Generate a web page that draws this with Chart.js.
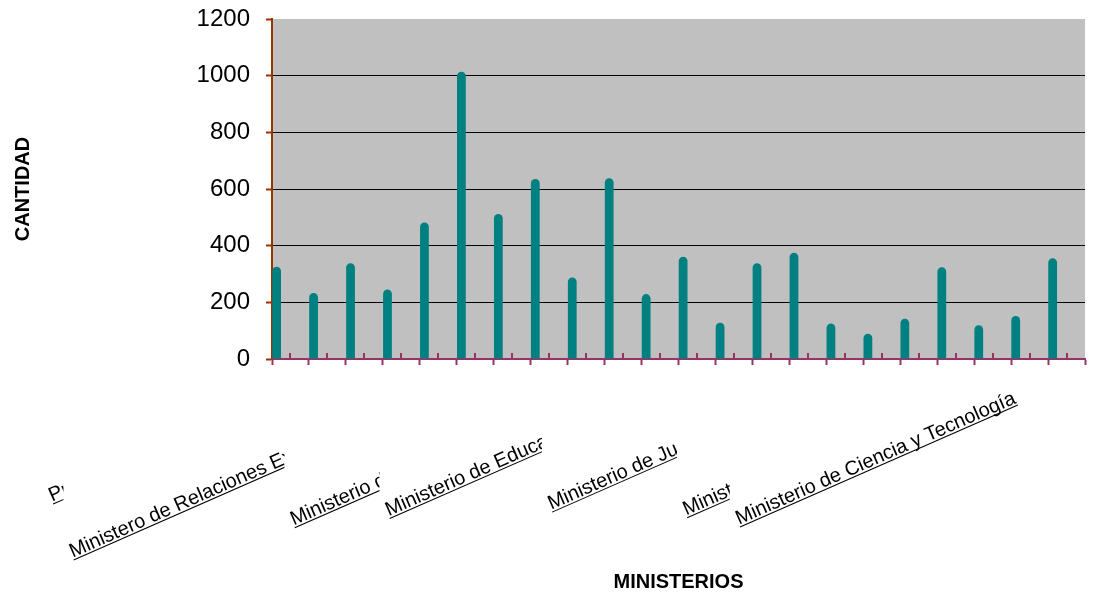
<!DOCTYPE html>
<html>
<head>
<meta charset="utf-8">
<script src="https://cdn.jsdelivr.net/npm/chart.js@4.4.1/dist/chart.umd.min.js"></script>
<style>
  html, body { margin: 0; padding: 0; background: #fff; }
</style>
</head>
<body>
<canvas id="ministerios" width="1095" height="601"></canvas>
<script>
// ---- data ----
const categories = [
  '', 'Pr', '', '', '', 'Ministero de Relaciones Ex', '', '', '',
  'Ministerio de', '', 'Ministerio de Educa', '', '', '', 'Ministerio de Jus',
  '', '', '', 'Minist', '', 'Ministerio de Ciencia y Tecnología'
];
const cantidad = [326, 233, 338, 245, 482, 1014, 512, 635, 288, 638, 229,
                  361, 128, 338, 375, 125, 89, 142, 324, 119, 152, 356];
const yTicks = [0, 200, 400, 600, 800, 1000, 1200];

// distance along the slanted baseline from a category's right edge back to
// where its label text starts (long names run out past the neighbours)
const labelLead = [0, 320, 0, 0, 0, 459, 0, 0, 0, 379, 0, 356, 0, 0, 0, 340,
                   0, 0, 0, 354, 0, 377];

Chart.defaults.font.family = '"Liberation Sans", Arial, sans-serif';

const LABEL_ANGLE = 23.7 * Math.PI / 180;

// grey plot area on a white page
const plotBg = {
  id: 'plotBg',
  beforeDraw(chart) {
    const { ctx, chartArea: a } = chart;
    ctx.save();
    ctx.fillStyle = '#ffffff';
    ctx.fillRect(0, 0, chart.width, chart.height);
    ctx.fillStyle = '#c0c0c0';
    ctx.fillRect(a.left, a.top, a.right - a.left, a.bottom - a.top);
    ctx.restore();
  }
};

// inner tick marks + slanted, underlined category labels
const axisDecor = {
  id: 'axisDecor',
  afterDraw(chart) {
    const { ctx, chartArea: a, scales: { x } } = chart;
    const slot = x.getPixelForValue(1) - x.getPixelForValue(0);
    ctx.save();

    ctx.strokeStyle = '#993366';
    ctx.lineWidth = 2;
    categories.forEach((_, i) => {
      const px = Math.round(x.getPixelForValue(i));
      ctx.beginPath();
      ctx.moveTo(px, a.bottom);
      ctx.lineTo(px, a.bottom - 6);
      ctx.stroke();
    });

    const ux = Math.cos(LABEL_ANGLE), uy = -Math.sin(LABEL_ANGLE);
    const shown = [];
    categories.forEach((txt, i) => {
      if (!txt) return;
      const ax = x.getPixelForValue(i) + slot / 2;
      const ay = a.bottom + 16;
      shown.push({ txt, sx: ax - labelLead[i] * ux, sy: ay - labelLead[i] * uy });
    });

    ctx.font = '20px "Liberation Sans", Arial, sans-serif';
    ctx.fillStyle = '#000';
    ctx.strokeStyle = '#000';
    ctx.lineWidth = 1;
    ctx.textAlign = 'left';
    ctx.textBaseline = 'alphabetic';
    shown.forEach((l, j) => {
      ctx.save();
      const next = shown[j + 1];
      if (next) {
        ctx.beginPath();
        ctx.rect(0, 0, next.sx - 10, chart.height);
        ctx.clip();
      }
      ctx.translate(l.sx, l.sy);
      ctx.rotate(-LABEL_ANGLE);
      const w = ctx.measureText(l.txt).width;
      ctx.fillText(l.txt, 0, -2);
      ctx.beginPath();
      ctx.moveTo(0, 0.5);
      ctx.lineTo(w, 0.5);
      ctx.stroke();
      ctx.restore();
    });
    ctx.restore();
  }
};

// empty series so the real bar sits in the first quarter of each slot
const spacer = () => ({ data: categories.map(() => null), backgroundColor: 'transparent' });

new Chart(document.getElementById('ministerios'), {
  type: 'bar',
  data: {
    labels: categories,
    datasets: [{
      label: 'Cantidad',
      data: cantidad,
      backgroundColor: '#008080',
      borderRadius: 5,
      borderSkipped: 'start'
    }, spacer(), spacer(), spacer()]
  },
  options: {
    responsive: false,
    animation: false,
    layout: { padding: { top: 19, right: 10, left: 0, bottom: 0 } },
    datasets: { bar: { categoryPercentage: 1, barPercentage: 0.95 } },
    plugins: {
      legend: { display: false },
      tooltip: { enabled: false }
    },
    scales: {
      x: {
        type: 'category',
        offset: true,
        grid: {
          offset: true,
          drawOnChartArea: false,
          drawTicks: true,
          tickLength: 6,
          tickColor: '#993366',
          tickWidth: 2
        },
        border: { color: '#993366', width: 2 },
        ticks: { display: false },
        title: {
          display: true,
          text: 'MINISTERIOS',
          color: '#000',
          font: { size: 20, weight: 'bold' },
          padding: { top: 0, bottom: 7 }
        },
        afterFit: s => { s.height = 242; }
      },
      y: {
        min: 0,
        max: 1200,
        afterBuildTicks: s => { s.ticks = yTicks.map(v => ({ value: v })); },
        ticks: { color: '#000', font: { size: 24 }, padding: 16, callback: v => String(v) },
        grid: {
          color: c => (c.tick && (c.tick.value === 0 || c.tick.value === 1200)) ? 'rgba(0,0,0,0)' : '#000',
          lineWidth: 1,
          tickColor: '#993300',
          tickLength: 6,
          tickWidth: 2
        },
        border: { color: '#993300', width: 2 },
        title: {
          display: true,
          text: 'CANTIDAD',
          color: '#000',
          font: { size: 20, weight: 'bold' },
          padding: { top: 11, bottom: 0 }
        },
        afterFit: s => {
          s.width = 272;
          s.paddingTop = 0;
          s.paddingBottom = 0;
        }
      }
    }
  },
  plugins: [plotBg, axisDecor]
});
</script>
</body>
</html>
